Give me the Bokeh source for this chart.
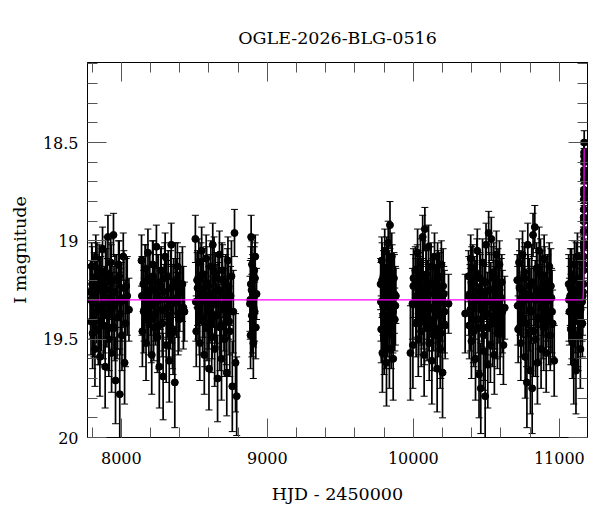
from bokeh.plotting import figure
from bokeh.models import (ColumnDataSource, Range1d, LinearAxis, FixedTicker,
                          CustomJSTickFormatter, Whisker, TeeHead)
from bokeh.embed import file_html
from bokeh.resources import INLINE

# OGLE I-band photometry, one set of lists per observing season (HJD - 2450000)
hjd_2017 = [7786, 7792, 7797, 7803, 7808, 7814, 7819, 7825, 7831, 7836,
            7842, 7848, 7853, 7859, 7865, 7871, 7877, 7883, 7889, 7895,
            7901, 7908, 7914, 7920, 7927, 7933, 7940, 7946, 7953, 7960,
            7967, 7974, 7981, 7989, 7996, 8004, 8013, 8022, 8033, 8052,
            7789, 7800, 7811, 7822, 7833, 7845, 7856, 7868, 7880, 7892,
            7904, 7917, 7930, 7943, 7956, 7970, 7985, 8000, 8017, 8028,
            8040, 7862, 7924, 7992]
mag_2017 = [19.26, 19.41, 19.13, 19.47, 19.32, 19.19, 19.55, 19.09, 19.36, 19.24,
            19.45, 19.14, 19.59, 19.21, 19.34, 19.04, 19.43, 19.28, 19.64, 19.17,
            19.38, 18.98, 19.50, 19.25, 19.11, 19.57, 19.31, 18.97, 19.44, 19.71,
            19.20, 19.39, 19.12, 19.78, 19.29, 19.48, 19.08, 19.62, 19.23, 19.35,
            19.30, 19.22, 19.38, 19.27, 19.19, 19.33, 19.41, 19.25, 19.36, 19.16,
            19.29, 19.44, 19.21, 19.34, 19.26, 19.39, 19.18, 19.31, 19.24, 19.42,
            19.28, 19.35, 19.20, 19.37]
err_2017 = [0.14, 0.17, 0.12, 0.18, 0.15, 0.13, 0.19, 0.12, 0.16, 0.14,
            0.18, 0.12, 0.20, 0.13, 0.16, 0.11, 0.17, 0.15, 0.21, 0.13,
            0.16, 0.11, 0.19, 0.14, 0.12, 0.20, 0.15, 0.11, 0.17, 0.22,
            0.13, 0.16, 0.12, 0.23, 0.15, 0.18, 0.12, 0.21, 0.14, 0.16,
            0.20, 0.19, 0.21, 0.20, 0.18, 0.20, 0.22, 0.19, 0.21, 0.18,
            0.20, 0.22, 0.19, 0.21, 0.19, 0.21, 0.18, 0.20, 0.19, 0.22,
            0.20, 0.21, 0.19, 0.21]

hjd_2018 = [8138, 8144, 8150, 8156, 8163, 8169, 8175, 8182, 8188, 8195,
            8201, 8208, 8214, 8221, 8227, 8234, 8240, 8247, 8253, 8260,
            8266, 8273, 8280, 8286, 8293, 8300, 8307, 8314, 8321, 8328,
            8335, 8342, 8350, 8358, 8366, 8375, 8384, 8394, 8408, 8432,
            8141, 8153, 8166, 8179, 8191, 8204, 8217, 8230, 8244, 8257,
            8270, 8283, 8297, 8311, 8324, 8338, 8346, 8354, 8370, 8380,
            8389, 8400, 8418, 8425]
mag_2018 = [19.10, 19.46, 19.22, 19.35, 19.14, 19.52, 19.28, 19.06, 19.41, 19.19,
            19.33, 19.58, 19.12, 19.44, 19.25, 19.37, 19.03, 19.49, 19.21, 19.64,
            19.30, 19.15, 19.42, 19.69, 19.26, 19.08, 19.53, 19.34, 19.18, 19.61,
            19.39, 19.02, 19.47, 19.23, 19.72, 19.31, 19.13, 19.40, 19.27, 19.36,
            19.28, 19.36, 19.21, 19.33, 19.25, 19.40, 19.18, 19.31, 19.27, 19.43,
            19.23, 19.35, 19.19, 19.30, 19.38, 19.24, 19.32, 19.45, 19.20, 19.29,
            19.37, 19.26, 19.22, 19.34]
err_2018 = [0.13, 0.18, 0.14, 0.16, 0.12, 0.19, 0.15, 0.12, 0.17, 0.13,
            0.15, 0.20, 0.12, 0.17, 0.14, 0.16, 0.11, 0.18, 0.14, 0.21,
            0.15, 0.12, 0.17, 0.22, 0.14, 0.12, 0.19, 0.15, 0.13, 0.21,
            0.16, 0.11, 0.18, 0.14, 0.23, 0.15, 0.12, 0.16, 0.14, 0.15,
            0.20, 0.21, 0.19, 0.20, 0.19, 0.22, 0.18, 0.20, 0.20, 0.22,
            0.19, 0.21, 0.18, 0.20, 0.21, 0.19, 0.20, 0.23, 0.19, 0.20,
            0.21, 0.20, 0.19, 0.21]

hjd_2019 = [8507, 8513, 8519, 8525, 8531, 8537, 8543, 8550, 8556, 8562,
            8568, 8575, 8581, 8587, 8594, 8600, 8606, 8613, 8619, 8626,
            8632, 8639, 8645, 8652, 8659, 8665, 8672, 8679, 8686, 8693,
            8700, 8707, 8715, 8722, 8730, 8738, 8748, 8760, 8775, 8790,
            8510, 8522, 8534, 8546, 8559, 8571, 8584, 8597, 8609, 8622,
            8635, 8648, 8662, 8675, 8689, 8703, 8711, 8718, 8726, 8734,
            8743, 8754, 8767, 8782]
mag_2019 = [18.99, 19.46, 19.20, 19.34, 19.11, 19.52, 19.27, 19.05, 19.40, 19.17,
            19.58, 19.31, 19.09, 19.44, 19.23, 19.65, 19.36, 19.13, 19.49, 19.02,
            19.29, 19.55, 19.19, 19.38, 19.70, 19.25, 19.07, 19.43, 19.60, 19.15,
            19.33, 19.50, 19.21, 19.67, 19.10, 19.41, 19.28, 19.74, 18.96, 19.79,
            19.31, 19.24, 19.37, 19.19, 19.29, 19.42, 19.22, 19.34, 19.27, 19.39,
            19.16, 19.32, 19.25, 19.44, 19.20, 19.35, 19.28, 19.41, 19.23, 19.30,
            19.46, 19.18, 19.36, 19.62]
err_2019 = [0.12, 0.18, 0.14, 0.16, 0.12, 0.19, 0.15, 0.12, 0.17, 0.13,
            0.20, 0.15, 0.12, 0.17, 0.14, 0.21, 0.16, 0.13, 0.18, 0.11,
            0.15, 0.19, 0.13, 0.16, 0.22, 0.14, 0.12, 0.17, 0.21, 0.13,
            0.15, 0.19, 0.14, 0.22, 0.12, 0.17, 0.15, 0.23, 0.12, 0.20,
            0.20, 0.19, 0.21, 0.18, 0.20, 0.22, 0.19, 0.21, 0.20, 0.21,
            0.18, 0.20, 0.19, 0.22, 0.19, 0.21, 0.20, 0.22, 0.19, 0.20,
            0.23, 0.18, 0.21, 0.25]

hjd_2020 = [8881, 8885, 8889, 8892, 8895, 8898, 8901, 8904, 8907, 8910,
            8913, 8917, 8921, 8926, 8883, 8887, 8894, 8900, 8906, 8915]
mag_2020 = [19.32, 19.48, 18.98, 19.25, 19.12, 19.41, 19.20, 19.52, 19.29, 19.15,
            19.36, 19.08, 19.44, 19.27, 19.30, 19.22, 19.38, 19.26, 19.34, 19.19]
err_2020 = [0.14, 0.17, 0.11, 0.13, 0.12, 0.16, 0.13, 0.18, 0.14, 0.12,
            0.15, 0.11, 0.16, 0.13, 0.20, 0.19, 0.21, 0.19, 0.20, 0.18]

hjd_2022 = [9776, 9780, 9784, 9788, 9792, 9796, 9800, 9804, 9808, 9812,
            9816, 9820, 9824, 9828, 9832, 9836, 9840, 9844, 9848, 9852,
            9857, 9862, 9867, 9873, 9880,
            9778, 9786, 9794, 9802, 9810, 9818, 9826, 9834, 9842, 9850,
            9855, 9860, 9870, 9877]
mag_2022 = [19.22, 19.45, 19.10, 19.57, 19.33, 19.18, 19.50, 19.05, 19.38, 19.27,
            19.62, 19.14, 19.42, 19.01, 19.30, 19.55, 18.92, 19.24, 19.47, 19.08,
            19.35, 19.60, 19.19, 19.40, 19.28,
            19.31, 19.20, 19.38, 19.26, 19.43, 19.16, 19.34, 19.24, 19.29, 19.40,
            19.21, 19.36, 19.27, 19.33]
err_2022 = [0.13, 0.17, 0.12, 0.20, 0.15, 0.13, 0.18, 0.11, 0.16, 0.14,
            0.22, 0.12, 0.17, 0.11, 0.15, 0.20, 0.12, 0.14, 0.18, 0.12,
            0.15, 0.21, 0.13, 0.16, 0.14,
            0.20, 0.19, 0.21, 0.19, 0.22, 0.18, 0.20, 0.19, 0.20, 0.21,
            0.19, 0.21, 0.20, 0.20]

hjd_2023 = [9980, 9994, 9997, 10000, 10001, 10014, 10019, 10024, 10029, 10034,
            10039, 10044, 10049, 10054, 10059, 10064, 10069, 10074, 10079, 10084,
            10089, 10094, 10099, 10104, 10109, 10115, 10121, 10127, 10133, 10139,
            10145, 10151, 10157, 10163, 10170, 10177, 10184, 10192, 10200, 10209,
            10218, 10241,
            10017, 10027, 10037, 10047, 10057, 10067, 10077, 10087, 10097, 10107,
            10118, 10130, 10142, 10154, 10166, 10174, 10181, 10188, 10196, 10204,
            10213, 10160]
mag_2023 = [19.57, 19.32, 19.53, 19.23, 19.19, 19.15, 19.42, 19.28, 19.06, 19.50,
            19.21, 19.36, 19.11, 19.46, 19.25, 18.98, 19.39, 19.58, 18.94, 19.31,
            19.17, 19.44, 19.26, 19.03, 19.52, 19.34, 19.13, 19.61, 19.22, 19.40,
            19.08, 19.48, 19.29, 19.65, 19.18, 19.37, 19.55, 19.12, 19.67, 19.27,
            19.43, 19.32,
            19.29, 19.21, 19.37, 19.26, 19.33, 19.18, 19.41, 19.24, 19.30, 19.35,
            19.22, 19.44, 19.27, 19.32, 19.19, 19.38, 19.25, 19.47, 19.31, 19.23,
            19.36, 19.28]
err_2023 = [0.24, 0.18, 0.22, 0.16, 0.15, 0.12, 0.17, 0.15, 0.12, 0.19,
            0.13, 0.16, 0.12, 0.18, 0.14, 0.11, 0.16, 0.21, 0.11, 0.15,
            0.13, 0.17, 0.14, 0.11, 0.19, 0.15, 0.12, 0.22, 0.13, 0.16,
            0.12, 0.18, 0.15, 0.22, 0.13, 0.16, 0.20, 0.12, 0.23, 0.14,
            0.17, 0.15,
            0.20, 0.19, 0.21, 0.20, 0.20, 0.18, 0.22, 0.19, 0.20, 0.21,
            0.19, 0.22, 0.20, 0.20, 0.18, 0.21, 0.19, 0.23, 0.20, 0.19,
            0.21, 0.20]

hjd_2024 = [10355, 10378, 10383, 10388, 10393, 10398, 10403, 10408, 10414, 10420,
            10426, 10432, 10438, 10444, 10450, 10456, 10462, 10468, 10474, 10480,
            10486, 10492, 10498, 10504, 10510, 10516, 10522, 10528, 10534, 10541,
            10548, 10555, 10562, 10569, 10576, 10583, 10590, 10598, 10606, 10617,
            10626,
            10380, 10390, 10400, 10411, 10423, 10435, 10447, 10459, 10471, 10483,
            10495, 10507, 10519, 10531, 10544, 10551, 10558, 10566, 10573, 10580,
            10587, 10594, 10602, 10610]
mag_2024 = [19.37, 19.18, 19.43, 19.27, 19.09, 19.51, 19.33, 19.14, 19.46, 19.22,
            19.60, 19.30, 19.05, 19.40, 19.68, 19.19, 19.75, 19.35, 19.11, 19.56,
            19.26, 19.79, 19.02, 19.44, 19.63, 18.96, 19.31, 19.53, 18.99, 19.39,
            19.16, 19.58, 19.24, 19.07, 19.47, 19.29, 19.12, 19.42, 19.21, 19.53,
            19.34,
            19.28, 19.35, 19.22, 19.40, 19.30, 19.17, 19.44, 19.26, 19.33, 19.48,
            19.21, 19.37, 19.25, 19.31, 19.42, 19.19, 19.34, 19.27, 19.39, 19.23,
            19.32, 19.45, 19.29, 19.36]
err_2024 = [0.20, 0.13, 0.17, 0.15, 0.12, 0.19, 0.15, 0.12, 0.18, 0.14,
            0.21, 0.15, 0.11, 0.17, 0.22, 0.13, 0.23, 0.16, 0.12, 0.20,
            0.14, 0.24, 0.11, 0.17, 0.22, 0.11, 0.15, 0.19, 0.11, 0.16,
            0.13, 0.20, 0.14, 0.12, 0.18, 0.15, 0.12, 0.17, 0.14, 0.20,
            0.16,
            0.20, 0.21, 0.19, 0.22, 0.20, 0.18, 0.22, 0.19, 0.21, 0.23,
            0.19, 0.21, 0.19, 0.20, 0.22, 0.18, 0.21, 0.20, 0.21, 0.19,
            0.20, 0.23, 0.20, 0.21]

hjd_2025 = [10712, 10718, 10724, 10730, 10736, 10742, 10748, 10754, 10760, 10766,
            10772, 10778, 10784, 10790, 10796, 10802, 10808, 10814, 10820, 10826,
            10832, 10838, 10844, 10850, 10856, 10862, 10868, 10875, 10882, 10889,
            10896, 10903, 10910, 10917, 10924, 10931, 10938, 10946, 10954, 10965,
            10715, 10727, 10739, 10751, 10763, 10775, 10787, 10799, 10811, 10823,
            10835, 10847, 10859, 10871, 10879, 10886, 10893, 10900, 10907, 10914,
            10921, 10928, 10942, 10950]
mag_2025 = [19.20, 19.45, 19.11, 19.33, 19.52, 19.25, 19.07, 19.41, 19.16, 19.59,
            19.30, 19.72, 19.02, 19.47, 19.23, 19.66, 19.36, 19.75, 18.97, 19.28,
            18.93, 19.50, 19.14, 19.62, 19.39, 19.05, 19.26, 19.55, 19.18, 19.43,
            19.09, 19.34, 19.57, 19.21, 19.38, 19.13, 19.48, 19.29, 19.42, 19.61,
            19.33, 19.24, 19.38, 19.29, 19.19, 19.42, 19.27, 19.35, 19.21, 19.46,
            19.30, 19.25, 19.40, 19.17, 19.34, 19.28, 19.44, 19.22, 19.37, 19.31,
            19.26, 19.41, 19.23, 19.36]
err_2025 = [0.13, 0.17, 0.12, 0.15, 0.19, 0.14, 0.12, 0.17, 0.13, 0.21,
            0.15, 0.23, 0.11, 0.18, 0.14, 0.22, 0.16, 0.23, 0.11, 0.15,
            0.11, 0.19, 0.13, 0.21, 0.16, 0.12, 0.14, 0.20, 0.13, 0.17,
            0.12, 0.15, 0.20, 0.13, 0.16, 0.12, 0.18, 0.15, 0.17, 0.18,
            0.20, 0.19, 0.21, 0.20, 0.18, 0.22, 0.20, 0.21, 0.19, 0.23,
            0.20, 0.19, 0.22, 0.18, 0.21, 0.20, 0.22, 0.19, 0.21, 0.20,
            0.19, 0.22, 0.19, 0.21]

hjd_2026 = [11064, 11069, 11074, 11079, 11084, 11089, 11094, 11099, 11104, 11109,
            11114, 11119, 11124, 11129, 11134, 11139, 11144, 11149, 11154, 11158,
            11162,
            11066, 11076, 11086, 11096, 11106, 11116, 11126, 11136, 11146, 11151,
            11156, 11160]
mag_2026 = [19.22, 19.36, 19.28, 19.45, 19.17, 19.51, 19.31, 19.62, 19.12, 19.40,
            19.66, 19.25, 19.08, 19.48, 19.34, 19.19, 19.55, 19.29, 19.10, 19.42,
            19.26,
            19.30, 19.24, 19.38, 19.27, 19.33, 19.20, 19.41, 19.29, 19.35, 19.22,
            19.31, 19.28]
err_2026 = [0.15, 0.17, 0.15, 0.18, 0.13, 0.19, 0.15, 0.21, 0.12, 0.17,
            0.22, 0.14, 0.12, 0.18, 0.16, 0.13, 0.20, 0.15, 0.12, 0.17,
            0.14,
            0.21, 0.20, 0.22, 0.20, 0.21, 0.19, 0.23, 0.20, 0.21, 0.19,
            0.20, 0.20]

# the rising part of the event at the end of the 2026 season
hjd_event = [11164.5, 11165.2, 11165.8, 11166.3, 11166.8, 11167.2, 11167.6,
             11168.0, 11168.4, 11168.8, 11169.2, 11169.6, 11170.0, 11170.5,
             11165.0, 11166.0, 11167.0, 11168.2, 11169.0, 11169.8]
mag_event = [19.22, 19.15, 19.08, 19.01, 18.95, 18.90, 18.84,
             18.79, 18.74, 18.69, 18.64, 18.60, 18.55, 18.50,
             19.12, 19.03, 18.88, 18.76, 18.66, 18.57]
err_event = [0.12, 0.11, 0.11, 0.10, 0.10, 0.09, 0.09,
             0.08, 0.08, 0.08, 0.07, 0.07, 0.06, 0.06,
             0.11, 0.10, 0.09, 0.08, 0.07, 0.06]

# microlensing model curve
model_hjd = [7700, 11160, 11163, 11165, 11166, 11167, 11168, 11169, 11170]
model_mag = [19.30, 19.30, 19.29, 19.26, 19.20, 19.08, 18.92, 18.74, 18.53]

seasons = [(hjd_2017, mag_2017, err_2017), (hjd_2018, mag_2018, err_2018),
           (hjd_2019, mag_2019, err_2019), (hjd_2020, mag_2020, err_2020),
           (hjd_2022, mag_2022, err_2022), (hjd_2023, mag_2023, err_2023),
           (hjd_2024, mag_2024, err_2024), (hjd_2025, mag_2025, err_2025),
           (hjd_2026, mag_2026, err_2026), (hjd_event, mag_event, err_event)]

hjd, mag, lower, upper = [], [], [], []
for hs, ms, es in seasons:
    for h, m, e in zip(hs, ms, es):
        hjd.append(h)
        mag.append(m)
        lower.append(m - e)
        upper.append(m + e)

source = ColumnDataSource(dict(hjd=hjd, mag=mag, lower=lower, upper=upper))

FONT = "DejaVu Serif"
TICK_COLOR = "#555555"

p = figure(width=594, height=510, title="OGLE-2026-BLG-0516",
           x_range=Range1d(7768, 11193), y_range=Range1d(20.0, 18.093),
           x_axis_location=None, y_axis_location=None,
           tools="", toolbar_location=None, output_backend="svg",
           min_border_left=87, min_border_right=7,
           min_border_top=62, min_border_bottom=73)
p.grid.grid_line_color = None
p.outline_line_color = "black"
p.outline_line_width = 1
p.background_fill_color = "white"
p.border_fill_color = "white"

p.title.align = "center"
p.title.text_font = FONT
p.title.text_font_size = "17.5px"
p.title.text_font_style = "normal"
p.title.text_color = "black"
p.title.standoff = 30

x_ticks = FixedTicker(ticks=[8000, 9000, 10000, 11000],
                      minor_ticks=list(range(7800, 11201, 200)))
y_ticks = FixedTicker(ticks=[18.5, 19.0, 19.5, 20.0],
                      minor_ticks=[round(18.1 + 0.1 * i, 1) for i in range(20)])
y_fmt = CustomJSTickFormatter(code="return String(Math.round(tick * 10) / 10);")
no_fmt = CustomJSTickFormatter(code="return '';")


def style(ax):
    ax.major_tick_in = 19
    ax.major_tick_out = 0
    ax.minor_tick_in = 10
    ax.minor_tick_out = 0
    ax.major_tick_line_color = TICK_COLOR
    ax.minor_tick_line_color = TICK_COLOR
    ax.axis_line_color = "black"
    ax.major_label_text_font = FONT
    ax.major_label_text_font_size = "16px"
    ax.major_label_text_color = "black"
    ax.axis_label_text_font = FONT
    ax.axis_label_text_font_size = "17.5px"
    ax.axis_label_text_font_style = "normal"
    ax.axis_label_text_color = "black"


xb = LinearAxis(ticker=x_ticks, axis_label="HJD - 2450000")
style(xb)
xb.major_label_standoff = 14
xb.axis_label_standoff = 17
p.add_layout(xb, "below")

xt = LinearAxis(ticker=x_ticks, formatter=no_fmt, major_label_standoff=0)
style(xt)
p.add_layout(xt, "above")

yl = LinearAxis(ticker=y_ticks, formatter=y_fmt, axis_label="I magnitude")
style(yl)
yl.major_label_standoff = 9
yl.axis_label_standoff = 10
p.add_layout(yl, "left")

yr = LinearAxis(ticker=y_ticks, formatter=no_fmt, major_label_standoff=0)
style(yr)
p.add_layout(yr, "right")

# error bars, points, model
p.add_layout(Whisker(source=source, base="hjd", lower="lower", upper="upper",
                     dimension="height", line_color="black", line_width=1.7,
                     upper_head=TeeHead(size=7, line_color="black", line_width=1),
                     lower_head=TeeHead(size=7, line_color="black", line_width=1)))
p.scatter("hjd", "mag", source=source, marker="circle", size=7,
          fill_color="black", line_color="black")
p.line(model_hjd, model_mag, line_color="#ff00ff", line_width=1.3)

open("out.html", "w").write(file_html(p, INLINE))
